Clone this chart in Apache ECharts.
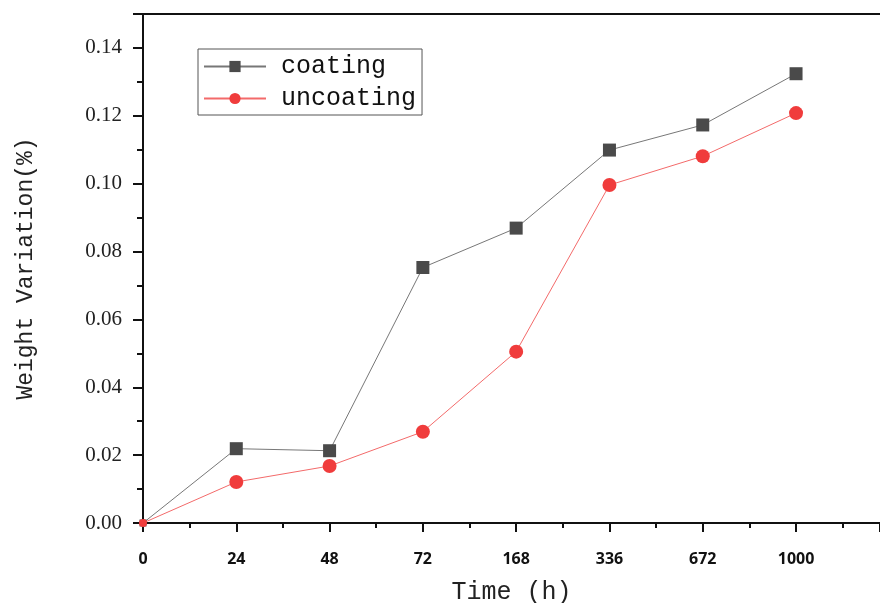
<!DOCTYPE html>
<html>
<head>
<meta charset="utf-8">
<script src="https://cdn.jsdelivr.net/npm/echarts@6/dist/echarts.min.js"></script>
<style>
  html, body { margin: 0; padding: 0; background: #fff; }
  #chart { width: 880px; height: 603px; }
</style>
</head>
<body>
<div id="chart"></div>
<script>
// time points (h), drawn at equal spacing
const timeLabels = ['0', '24', '48', '72', '168', '336', '672', '1000']
const coating = [0, 0.0219, 0.0213, 0.0753, 0.0869, 0.1099, 0.1173, 0.1324]
const uncoating = [0, 0.0121, 0.0168, 0.0269, 0.0505, 0.0996, 0.1081, 0.1208]

// pair each value with its slot index
const toPoints = (arr) => arr.map((v, i) => [i, v])

const chart = echarts.init(document.getElementById('chart'))

const option = {
  animation: false,
  backgroundColor: '#fff',
  grid: { left: 143, right: 0, top: 14, bottom: 80, outerBoundsMode: 'none' },
  legend: {
    orient: 'vertical',
    left: 198,
    top: 49,
    padding: [5, 6, 4, 5],
    itemGap: 7,
    itemWidth: 62,
    itemHeight: 14,
    borderColor: '#555',
    borderWidth: 1,
    backgroundColor: '#fff',
    textStyle: {
      fontFamily: 'Liberation Mono',
      fontSize: 25,
      color: '#111',
      padding: [0, 0, 0, 10]
    },
    data: ['coating', 'uncoating']
  },
  xAxis: [
    {
      type: 'value',
      min: 0,
      max: 7.9,
      interval: 1,
      name: 'Time (h)',
      nameLocation: 'middle',
      nameGap: 57,
      nameTextStyle: { fontFamily: 'Liberation Mono', fontSize: 25, color: '#222' },
      axisLine: { lineStyle: { color: '#111', width: 2 } },
      axisTick: { inside: false, length: 9, lineStyle: { color: '#111', width: 2 } },
      minorTick: { show: true, splitNumber: 2, length: 5, lineStyle: { color: '#111', width: 2 } },
      splitLine: { show: false },
      axisLabel: {
        margin: 28,
        fontFamily: 'Noto Sans',
        fontWeight: 'bold',
        fontSize: 16,
        color: '#111',
        formatter: (v) => (Number.isInteger(v) && timeLabels[v] !== undefined ? timeLabels[v] : '')
      }
    },
    {
      type: 'value',
      position: 'top',
      min: 0,
      max: 7.9,
      axisLine: { show: true, lineStyle: { color: '#111', width: 2 } },
      axisTick: { show: false },
      axisLabel: { show: false },
      splitLine: { show: false }
    }
  ],
  yAxis: {
    type: 'value',
    min: 0,
    max: 0.15,
    interval: 0.02,
    name: 'Weight Variation(%)',
    nameLocation: 'middle',
    nameGap: 106,
    nameTextStyle: { fontFamily: 'Liberation Mono', fontSize: 23, color: '#222' },
    axisLine: { show: true, lineStyle: { color: '#111', width: 2 } },
    axisTick: { show: true, inside: false, length: 10, lineStyle: { color: '#111', width: 2 } },
    minorTick: { show: true, splitNumber: 2, length: 6, lineStyle: { color: '#111', width: 2 } },
    splitLine: { show: false },
    axisLabel: {
      margin: 21,
      fontFamily: 'Liberation Serif',
      fontSize: 21,
      color: '#222',
      formatter: (v) => (v > 0.145 ? '' : v.toFixed(2))
    }
  },
  series: [
    {
      name: 'coating',
      type: 'line',
      data: toPoints(coating),
      symbol: 'rect',
      symbolSize: (val, p) => (p.dataIndex === 0 ? 7 : 13),
      itemStyle: { color: '#4a4a4a' },
      lineStyle: { color: '#777', width: 1 },
      z: 3
    },
    {
      name: 'uncoating',
      type: 'line',
      data: toPoints(uncoating),
      symbol: 'circle',
      symbolSize: (val, p) => (p.dataIndex === 0 ? 8 : 14),
      itemStyle: { color: '#f03c3c' },
      lineStyle: { color: '#f36a6a', width: 1 },
      z: 4
    }
  ]
}

chart.setOption(option)
</script>
</body>
</html>
